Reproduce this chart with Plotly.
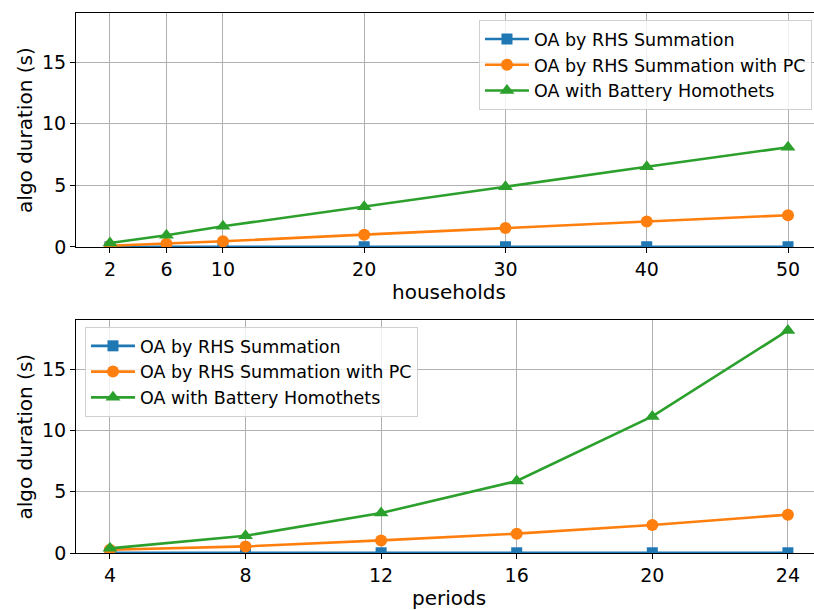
import plotly.graph_objects as go
from plotly.subplots import make_subplots

# Top panel: runtime vs number of households
households = [2, 6, 10, 20, 30, 40, 50]
hh_rhs = [0.02, 0.02, 0.02, 0.02, 0.02, 0.02, 0.02]
hh_rhs_pc = [0.10, 0.27, 0.46, 1.00, 1.55, 2.07, 2.58]
hh_battery = [0.33, 0.95, 1.68, 3.26, 4.89, 6.52, 8.10]

# Bottom panel: runtime vs number of periods
periods = [4, 8, 12, 16, 20, 24]
pr_rhs = [0.02, 0.02, 0.02, 0.02, 0.02, 0.02]
pr_rhs_pc = [0.27, 0.54, 1.03, 1.58, 2.28, 3.13]
pr_battery = [0.38, 1.41, 3.26, 5.87, 11.14, 18.15]

y_ticks = [0, 5, 10, 15]

series_names = ["OA by RHS Summation", "OA by RHS Summation with PC", "OA with Battery Homothets"]
colors = ["#1f77b4", "#ff7f0e", "#2ca02c"]
symbols = ["square", "circle", "triangle-up"]
marker_sizes = [11, 12, 13]

FONT = "DejaVu Sans"

fig = make_subplots(rows=2, cols=1)

top = [hh_rhs, hh_rhs_pc, hh_battery]
bottom = [pr_rhs, pr_rhs_pc, pr_battery]

for i in range(3):
    fig.add_trace(go.Scatter(
        x=households, y=top[i], name=series_names[i], mode="lines+markers",
        line=dict(color=colors[i], width=2.6),
        marker=dict(symbol=symbols[i], size=marker_sizes[i], color=colors[i]),
        legend="legend",
    ), row=1, col=1)
for i in range(3):
    fig.add_trace(go.Scatter(
        x=periods, y=bottom[i], name=series_names[i], mode="lines+markers",
        line=dict(color=colors[i], width=2.6),
        marker=dict(symbol=symbols[i], size=marker_sizes[i], color=colors[i]),
        legend="legend2",
    ), row=2, col=1)

axis_common = dict(
    showline=True, linecolor="black", linewidth=1,
    showgrid=True, gridcolor="#b0b0b0", gridwidth=1,
    ticks="outside", ticklen=5, tickcolor="black",
    tickfont=dict(family=FONT, size=19, color="black"),
    zeroline=False, automargin=False,
)

# x axes get the top spine too; the right edge is open
fig.update_xaxes(mirror=True, **axis_common)
fig.update_yaxes(mirror=False, **axis_common)

fig.update_layout(
    width=814, height=610,
    margin=dict(l=0, r=0, t=0, b=0),
    plot_bgcolor="white", paper_bgcolor="white",
    font=dict(family=FONT, size=16, color="black"),
    xaxis=dict(domain=[0.0934, 1.0], range=[-0.4, 51.84],
               tickmode="array", tickvals=households),
    yaxis=dict(domain=[0.5951, 0.9787], range=[0, 19.0],
               tickmode="array", tickvals=y_ticks),
    xaxis2=dict(domain=[0.0934, 1.0], range=[3.0, 24.77],
                tickmode="array", tickvals=periods),
    yaxis2=dict(domain=[0.0934, 0.4754], range=[0, 19.0],
                tickmode="array", tickvals=y_ticks),
    legend=dict(
        x=0.9975, y=0.967, xanchor="right", yanchor="top",
        bgcolor="rgba(255,255,255,0.8)", bordercolor="#d0d0d0", borderwidth=1,
        font=dict(family=FONT, size=17.5), tracegroupgap=0, itemwidth=44,
    ),
    legend2=dict(
        x=0.1044, y=0.464, xanchor="left", yanchor="top",
        bgcolor="rgba(255,255,255,0.8)", bordercolor="#d0d0d0", borderwidth=1,
        font=dict(family=FONT, size=17.5), tracegroupgap=0, itemwidth=44,
    ),
)

# axis titles
title_font = dict(family=FONT, size=20, color="black")
for text, x, y, angle in [
    ("algo duration (s)", 25 / 814, 0.787, -90),
    ("algo duration (s)", 25 / 814, 0.2844, -90),
    ("households", 449 / 814, 1 - 292 / 610, 0),
    ("periods", 449 / 814, 1 - 598 / 610, 0),
]:
    fig.add_annotation(text=text, x=x, y=y, xref="paper", yref="paper",
                       xanchor="center", yanchor="middle", textangle=angle,
                       showarrow=False, font=title_font)

fig.write_html("out.html")
